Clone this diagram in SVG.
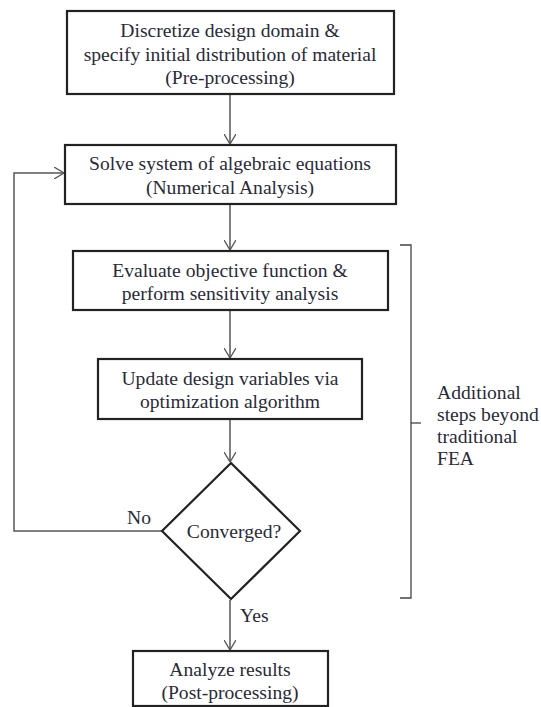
<svg xmlns="http://www.w3.org/2000/svg" width="541" height="707" viewBox="0 0 541 707">
<defs>
<marker id="arr" viewBox="0 0 10 12" refX="10" refY="6" markerWidth="10" markerHeight="12" markerUnits="userSpaceOnUse" orient="auto">
<path d="M0,0 L10,6 L0,12" fill="none" stroke="#555" stroke-width="1.3"/>
</marker>
<style>
.box{fill:#fff;stroke:#222;stroke-width:2.2}
text{font-family:'Liberation Serif','Times New Roman',serif;font-size:19.6px;fill:#2a2a38}
.t{text-anchor:middle}
.c{fill:none;stroke:#555;stroke-width:1.5}
</style>
</defs>
<rect width="541" height="707" fill="#fff"/>
<g id="connectors">
<line class="c" x1="230" y1="95" x2="230" y2="144" marker-end="url(#arr)"/>
<line class="c" x1="230" y1="205" x2="230" y2="250" marker-end="url(#arr)"/>
<line class="c" x1="230" y1="311" x2="230" y2="358" marker-end="url(#arr)"/>
<line class="c" x1="230" y1="420" x2="230" y2="462" marker-end="url(#arr)"/>
<line class="c" x1="230" y1="600" x2="230" y2="650" marker-end="url(#arr)"/>
<polyline class="c" points="162,531 14,531 14,173 64,173" marker-end="url(#arr)"/>
<text x="127" y="524">No</text>
<text x="240" y="622">Yes</text>
</g>
<g id="pre">
<rect class="box" x="67" y="11" width="327" height="83"/>
<text class="t" x="230" y="37">Discretize design domain &amp;</text>
<text class="t" x="230" y="61">specify initial distribution of material</text>
<text class="t" x="230" y="84">(Pre-processing)</text>
</g>
<g id="solve">
<rect class="box" x="65" y="145" width="331" height="59"/>
<text class="t" x="230" y="170">Solve system of algebraic equations</text>
<text class="t" x="230" y="194">(Numerical Analysis)</text>
</g>
<g id="evaluate">
<rect class="box" x="73" y="251" width="315" height="59"/>
<text class="t" x="230" y="277">Evaluate objective function &amp;</text>
<text class="t" x="230" y="300">perform sensitivity analysis</text>
</g>
<g id="update">
<rect class="box" x="98" y="359" width="264" height="60"/>
<text class="t" x="230" y="385">Update design variables via</text>
<text class="t" x="230" y="408">optimization algorithm</text>
</g>
<g id="converged">
<polygon class="box" points="231,463 300,531 231,599 162,531"/>
<text class="t" x="234" y="538">Converged?</text>
</g>
<g id="post">
<rect class="box" x="133" y="651" width="195" height="55"/>
<text class="t" x="230" y="676">Analyze results</text>
<text class="t" x="230" y="699">(Post-processing)</text>
</g>
<g id="bracket">
<polyline fill="none" stroke="#444" stroke-width="1.3" points="400,245 411,245 411,598 400,598"/>
<line stroke="#444" stroke-width="1.3" x1="411" y1="423" x2="421" y2="423"/>
<text x="437" y="399">Additional</text>
<text x="437" y="421">steps beyond</text>
<text x="437" y="443">traditional</text>
<text x="437" y="465">FEA</text>
</g>
</svg>
